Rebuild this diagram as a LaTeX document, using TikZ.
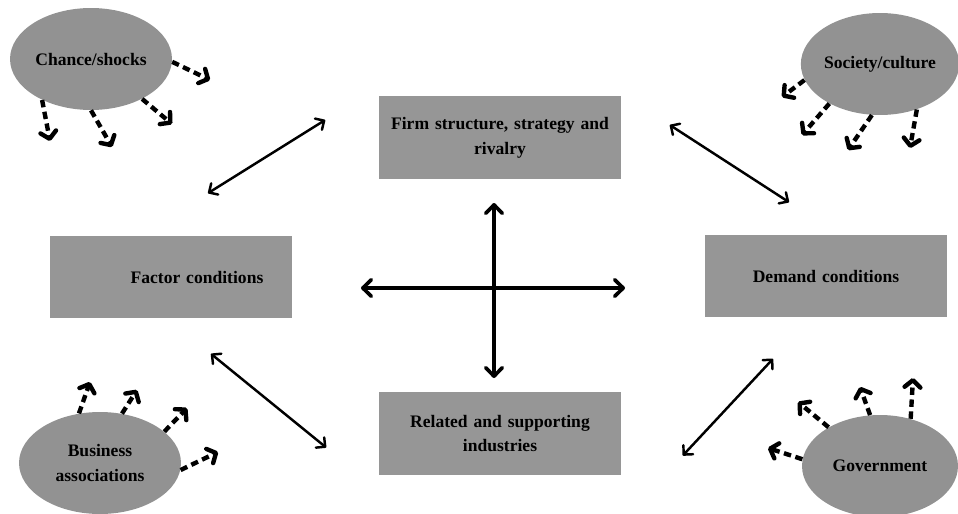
\documentclass[tikz,border=0pt]{standalone}
\usepackage{fontspec}
\setmainfont{Liberation Serif}
\usepackage{tikz}
\usetikzlibrary{shapes.geometric, arrows.meta}
\definecolor{cBox}{HTML}{969696}
\definecolor{cOval}{HTML}{929292}
\tikzset{
  box/.style={
    rectangle, fill=cBox, minimum width=4.86cm, minimum height=1.66cm,
    text width=4.5cm, align=center, inner sep=0pt,
    font=\bfseries\fontsize{10}{14}\selectfont
  },
  oval/.style={
    ellipse, fill=cOval, minimum width=3.24cm, minimum height=2.04cm,
    inner sep=0pt, align=center,
    font=\bfseries\fontsize{10}{14}\selectfont
  },
  link/.style={{Straight Barb[length=3.8pt, width=7.5pt, round]}-{Straight Barb[length=3.8pt, width=7.5pt, round]},
    line width=1.4pt},
  cross/.style={{Straight Barb[length=4.8pt, width=9.5pt, round]}-{Straight Barb[length=4.8pt, width=9.5pt, round]},
    line width=2.1pt},
  force/.style={-{Straight Barb[length=4pt, width=9pt, round]},
    line width=2.5pt, dash pattern=on 4.2pt off 2.6pt},
}

\begin{document}
\begin{tikzpicture}[x=0.02cm, y=-0.02cm]
  \useasboundingbox (0,0) rectangle (958,514);

  % Four corners of the diamond
  \node[box] (firm)    at (500,137.5) {Firm structure, strategy and\\ rivalry};
  \node[box] (factor)  at (171,277)   {\hspace*{1.04cm}Factor conditions};
  \node[box] (demand)  at (826,276)   {Demand conditions};
  \node[box] (related) at (500,433.5) {Related and supporting\\ industries};

  % Outside influences
  \node[oval] (chance)   at (91,59)   {Chance/shocks};
  \node[oval, minimum width=3.12cm] (society)  at (880,64)  {Society/culture};
  \node[oval] (business) at (100,463) {Business\\ associations};
  \node[oval, minimum width=3.12cm] (govt)     at (880,466) {Government};

  % Links between the corners
  \draw[link] ([shift={(37,-42)}]factor.north) -- ([shift={(-53,-17.5)}]firm.west);
  \draw[link] ([shift={(48,-12.5)}]firm.east) -- ([shift={(-37,-32)}]demand.north);
  \draw[link] ([shift={(40,35)}]factor.south) -- ([shift={(-52,14)}]related.west);
  \draw[link] ([shift={(61,22)}]related.east) -- ([shift={(-53,41)}]demand.south);

  % Central cross
  \coordinate (hub) at (494,288);
  \coordinate (hub-w) at (361,288);
  \coordinate (hub-e) at (625,288);
  \coordinate (hub-n) at (494,203);
  \coordinate (hub-s) at (494,378);
  \draw[cross] (hub-w) -- (hub-e);
  \draw[cross] (hub-n) -- (hub-s);

  % Ends of the dashed arrows
  \coordinate (chance-1) at (210,80);
  \coordinate (chance-2) at (172,124);
  \coordinate (chance-3) at (112,147);
  \coordinate (chance-4) at (50,141);
  \coordinate (society-1) at (782,97);
  \coordinate (society-2) at (802,135);
  \coordinate (society-3) at (848,150);
  \coordinate (society-4) at (910,148);
  \coordinate (business-1) at (90,382);
  \coordinate (business-2) at (137,390);
  \coordinate (business-3) at (187,408);
  \coordinate (business-4) at (218,452);
  \coordinate (govt-1) at (768,448);
  \coordinate (govt-2) at (798,402);
  \coordinate (govt-3) at (860,387);
  \coordinate (govt-4) at (913,378);

  % Dashed arrows
  \draw[force] (chance.-2)   -- (chance-1);
  \draw[force] (chance.-38)  -- (chance-2);
  \draw[force] (chance.-90)  -- (chance-3);
  \draw[force] (chance.-140) -- (chance-4);

  \draw[force] (society.-168) -- (society-1);
  \draw[force] (society.-142) -- (society-2);
  \draw[force] (society.-99)  -- (society-3);
  \draw[force] (society.-51)  -- (society-4);

  \draw[force] (business.113) -- (business-1);
  \draw[force] (business.66)  -- (business-2);
  \draw[force] (business.26)  -- (business-3);
  \draw[force] (business.-5)  -- (business-4);

  \draw[force] (govt.175) -- (govt-1);
  \draw[force] (govt.143) -- (govt-2);
  \draw[force] (govt.101) -- (govt-3);
  \draw[force] (govt.57)  -- (govt-4);

\end{tikzpicture}
\end{document}
